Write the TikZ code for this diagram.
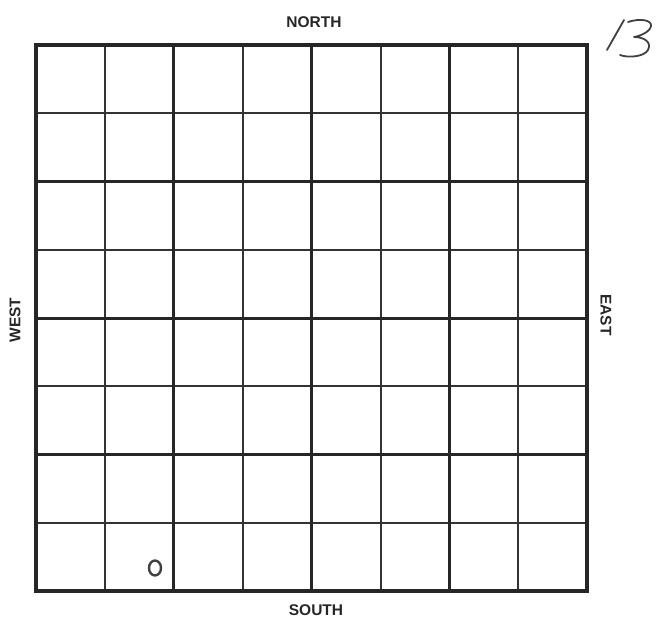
\documentclass[tikz,border=0pt]{standalone}
\usepackage{fontspec}
\setmainfont{Liberation Sans}
\usetikzlibrary{positioning}
\tikzset{
  compass/.style={font=\fontsize{15.5}{18}\selectfont\bfseries, text=black!85},
  thinline/.style={line width=2pt, black!80},
  thickline/.style={line width=3pt, black!85},
  pencil/.style={line width=1.8pt, black!75, line cap=round, line join=round}
}
\begin{document}
\begin{tikzpicture}[x=1pt, y=-1pt]
    \useasboundingbox (0,0) rectangle (665,632);

    % Grid lines
    \foreach \i in {1,3,5,7} {
        \draw[thinline] ({36+68.9*\i},45) -- ({36+68.9*\i},591);
        \draw[thinline] (36,{45+68.25*\i}) -- (587,{45+68.25*\i});
    }
    \foreach \i in {2,4,6} {
        \draw[thickline] ({36+68.9*\i},45) -- ({36+68.9*\i},591);
        \draw[thickline] (36,{45+68.25*\i}) -- (587,{45+68.25*\i});
    }

    % Border
    \draw[line width=3.8pt, black!85] (36,45) rectangle (587,591);

    % Compass labels
    \node[compass] (north) at (314,22) {NORTH};
    \node[compass] (south) at (316,610) {SOUTH};
    \node[compass, rotate=90] (west) at (15,320) {WEST};
    \node[compass, rotate=-90] (east) at (606,315) {EAST};

    % Handwritten page number
    \draw[pencil] (607,50) -- (624,20);
    \draw[pencil] (628,22) .. controls (640,18) and (652,20) .. (651,26)
        .. controls (650,32) and (640,36) .. (634,37)
        .. controls (644,37) and (652,42) .. (648,50)
        .. controls (644,57) and (628,58) .. (620,55);

    % Pencil mark
    \draw[pencil, line width=2.4pt] (155,568) ellipse (6 and 7.5);
\end{tikzpicture}
\end{document}
